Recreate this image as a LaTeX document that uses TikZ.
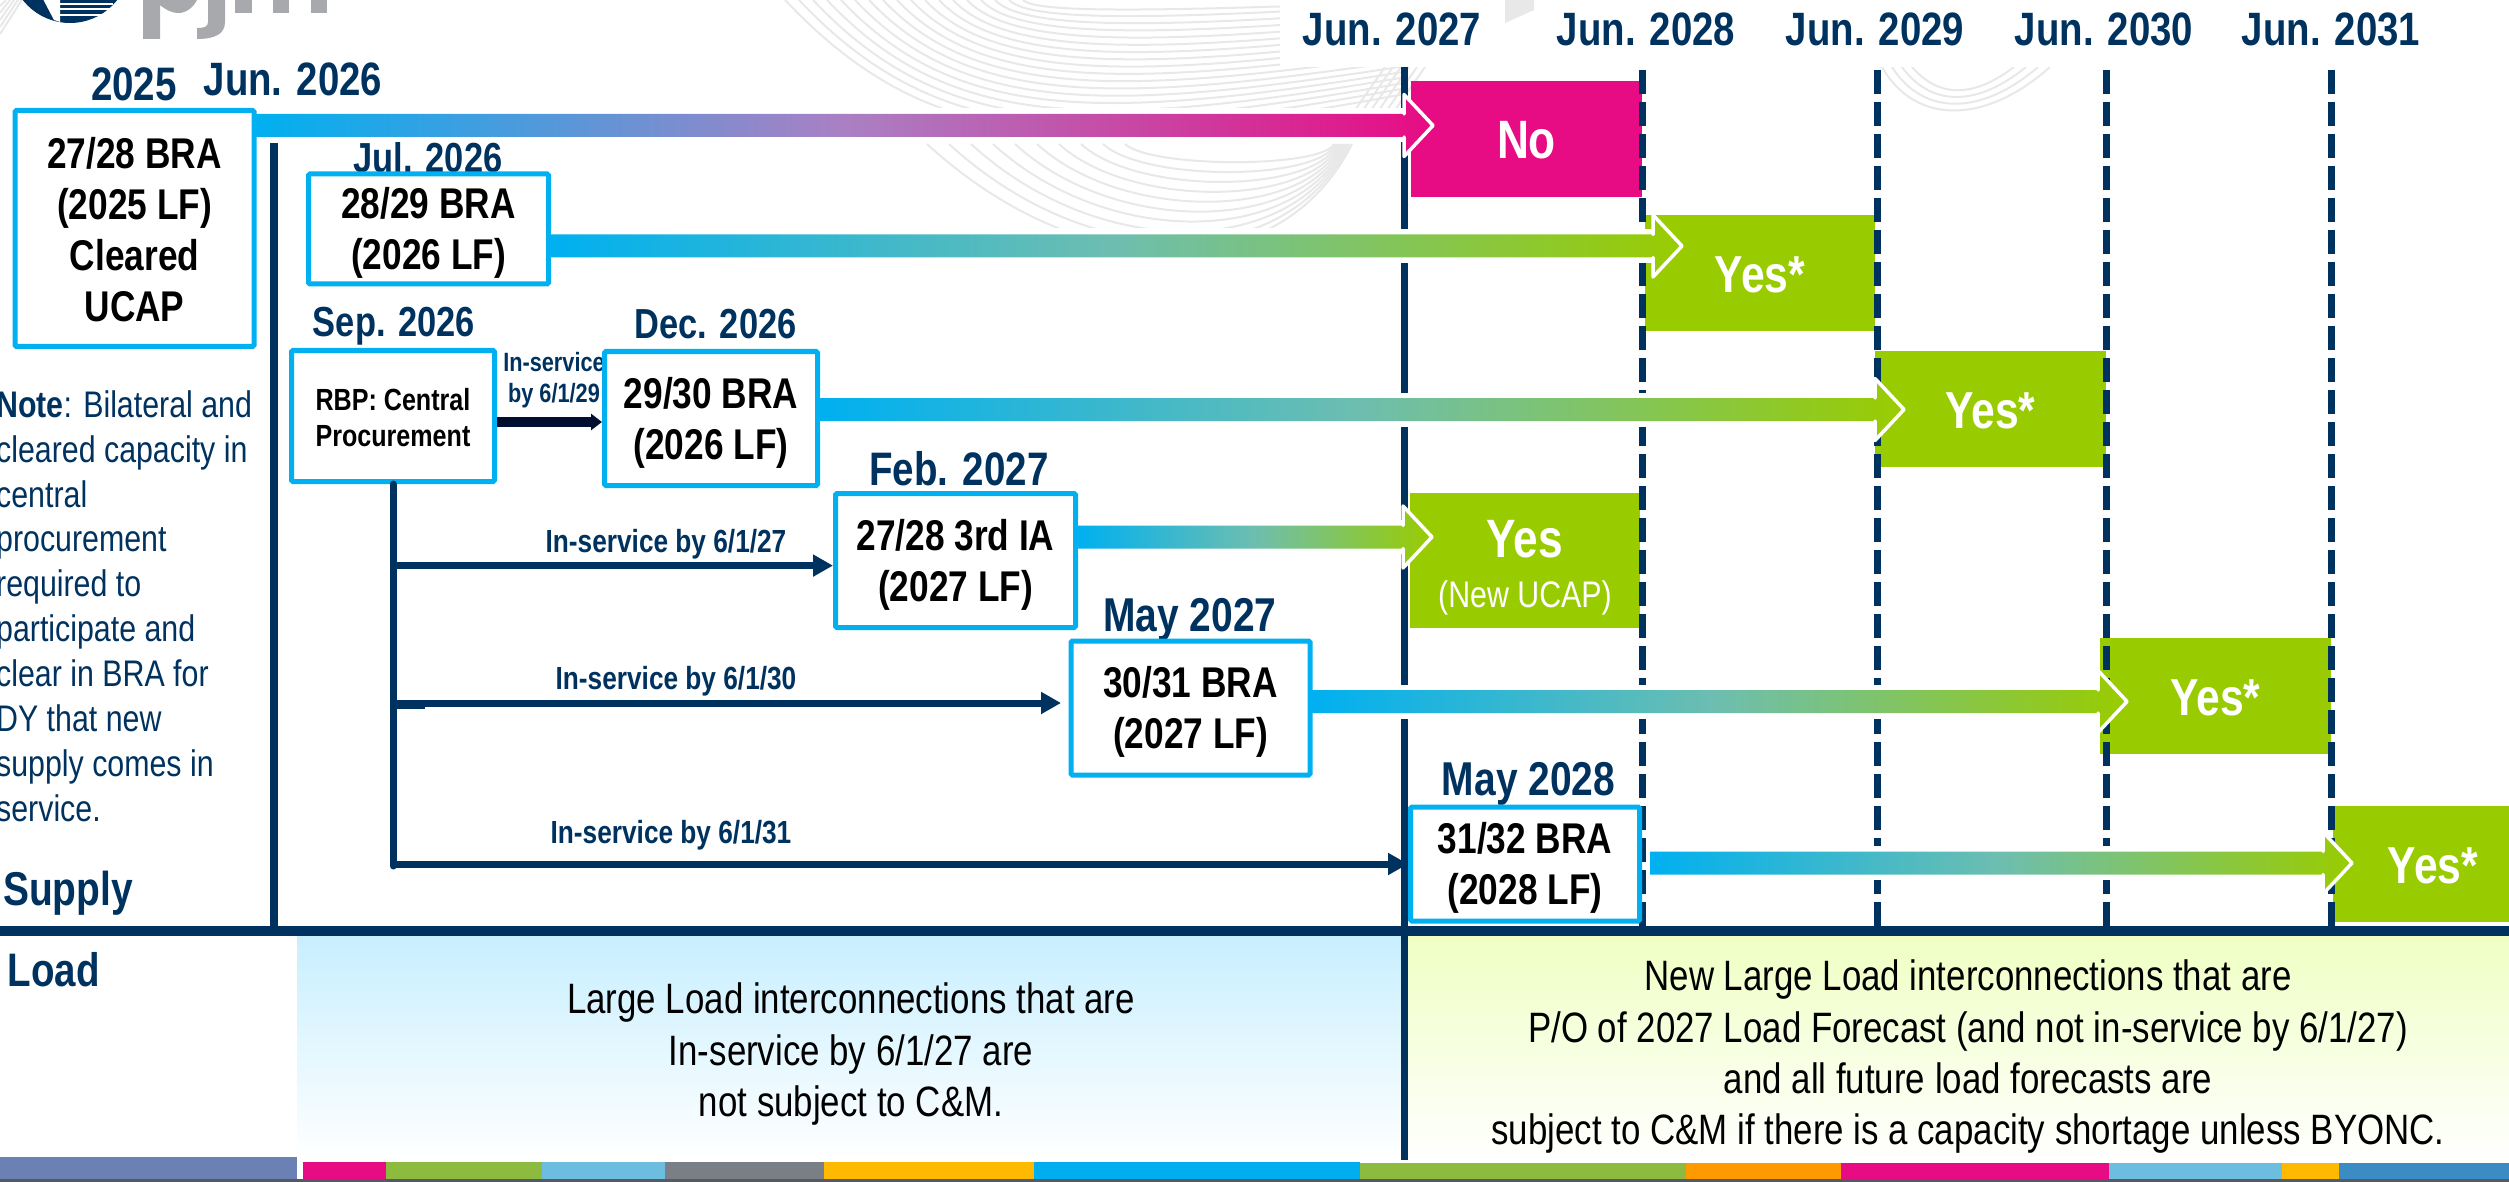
\documentclass[tikz,border=0pt]{standalone}
\usepackage{fontspec}
\setmainfont[FakeStretch=0.82]{Liberation Sans}
\usetikzlibrary{calc,arrows.meta}
\definecolor{navy}{HTML}{00325F}
\definecolor{cyanb}{HTML}{00B0F0}
\definecolor{pinkb}{HTML}{E70B84}
\definecolor{greenb}{HTML}{99CC00}
\definecolor{midp}{HTML}{AA80C3}
\definecolor{midg}{HTML}{6EBEAF}
\definecolor{swoosh}{HTML}{E8E8E8}
\definecolor{logogrey}{HTML}{A7A9AC}
\definecolor{stripa}{HTML}{6B81B3}
\definecolor{stripg}{HTML}{8DBB3F}
\definecolor{stripl}{HTML}{6DBDE0}
\definecolor{stripk}{HTML}{7A7F85}
\definecolor{stripy}{HTML}{FFB900}
\definecolor{stripc}{HTML}{00AEEF}
\definecolor{stripo}{HTML}{FF9900}
\definecolor{stripb}{HTML}{3B8BC4}
\definecolor{stripd}{HTML}{555A60}
\definecolor{darkarrow}{HTML}{000F30}
\definecolor{panela}{HTML}{C8EFFF}
\definecolor{panelb}{HTML}{EFFFC3}
\newcommand{\st}[2]{\rule[-#2pt]{0pt}{\dimexpr#1pt+#2pt\relax}}
\newcommand{\fs}[2]{\fontsize{#1}{#2}\selectfont}
% gradient arrow: start node, tip coordinate, x-offset from the start node, end colour, middle colour
\newcommand{\gradarrow}[5]{%
  \fill[white] ($(#1.east |- #2)+(#3,-17)$) rectangle ($(#2)+(-29,17)$);
  \shade[left color=cyanb,right color=#4,middle color=#5]
    ($(#1.east |- #2)+(#3,-11.5)$) -- ($(#2)+(-29,-11.5)$) -- ($(#2)+(-29,-31)$) -- (#2) --
    ($(#2)+(-29,31)$) -- ($(#2)+(-29,11.5)$) -- ($(#1.east |- #2)+(#3,11.5)$) -- cycle;
  \draw[white,line width=3.5pt,line join=round,line cap=round]
    ($(#2)+(-29,-11.5)$) -- ($(#2)+(-29,-31)$) -- (#2) -- ($(#2)+(-29,31)$) -- ($(#2)+(-29,11.5)$);
}
\tikzset{
  x=1pt,y=-1pt,
  bluebox/.style={draw=cyanb,line width=5pt,rounded corners=1.5pt,fill=white,inner sep=0pt,align=center,text=black,font=\bfseries\fs{43}{51}},
  date/.style={anchor=base,inner sep=0pt,text=navy,font=\bfseries\fs{46.8}{50}},
  datesm/.style={date,font=\bfseries\fs{42}{50}},
  svc/.style={anchor=base,inner sep=0pt,text=navy,font=\bfseries\fs{32}{36}},
  verdict/.style={inner sep=0pt,text=white,font=\bfseries\fs{52}{54},align=center},
  loadtext/.style={inner sep=0pt,text=black,align=center,font=\fs{42.5}{51.2}},
  nline/.style={draw=navy,line width=7pt},
  narrow/.style={nline,-{Triangle[length=20pt,width=21pt]}},
  dashline/.style={draw=navy,line width=7pt,dash pattern=on 24pt off 8pt},
  swl/.style={draw=swoosh,line width=2pt},
}
\begin{document}
\begin{tikzpicture}
\useasboundingbox (0,0) rectangle (2509,1182);
\clip (0,0) rectangle (2509,1182);
% ---- background swooshes
\begin{scope}
\clip (780,0) rectangle (1404,109);
\foreach \i in {0,...,17}{
  \pgfmathsetmacro{\xo}{785+14*\i}
  \pgfmathsetmacro{\dd}{max(10,150-8*\i)}
  \pgfmathsetmacro{\ye}{max(2,92-5.5*\i)}
  \draw[swl] (\xo,0) .. controls ({\xo+\dd},{\dd*1.06}) and ({\xo+\dd+150},{\dd*1.06-5}) .. (1415,\ye);
}
\end{scope}
\begin{scope}
\clip (880,144) rectangle (1404,228);
\foreach \i in {0,...,9}{
  \pgfmathsetmacro{\xo}{927+22*\i}
  \pgfmathsetmacro{\dd}{130-12*\i}
  \pgfmathsetmacro{\xe}{1352-2*\i}
  \draw[swl] (\xo,144) .. controls ({\xo+\dd*1.2},{144+\dd*1.1}) and ({\xe-\dd*.55},{144+\dd*1.1}) .. (\xe,144);
}
\end{scope}
\foreach \i in {0,...,5}{
  \draw[swl] ({1355+8*\i},110) -- ({1385+8*\i},67);
}
\foreach \i in {0,...,3}{
  \draw[swl] ({1882+10*\i},67) .. controls ({1915+8*\i},{125-9*\i}) and ({1985-4*\i},{125-9*\i}) .. ({2050-12*\i},67);
}
\foreach \i in {0,...,4}{
  \draw[swl] (0,{34-7*\i}) -- ({22-4*\i},0);
}
\fill[white] (1280,0) rectangle (2509,67);
\fill[swoosh] (1505,0) -- (1534,0) -- (1534,10) -- (1505,23) -- cycle;
% ---- logo (cropped by the page top)
\begin{scope}
\clip (0,0) rectangle (140,30);
\fill[navy] (70,-37) circle (60);
\fill[white] (43,-1) -- (60,-1) -- (60,22) -- (54,20) -- cycle;
\foreach \yy in {4.5,9.5,14.7}{ \fill[white] (57,\yy-1) rectangle (113,\yy+1); }
\end{scope}
\fill[logogrey] (143,0) -- (143,39) -- (160,39) -- (160,5) .. controls (166,10) and (172,13) .. (178,13) .. controls (186,13) and (193,8) .. (197,0) -- cycle;
\fill[logogrey] (208,0) -- (208,22) .. controls (208,27) and (204,28) .. (197,28) -- (197,39) .. controls (215,39) and (225,34) .. (225,22) -- (225,0) -- cycle;
\fill[logogrey] (235,0) rectangle (252,13);
\fill[logogrey] (273,0) rectangle (289,13);
\fill[logogrey] (311,0) rectangle (327,13);
% ---- load panels
\shade[top color=panela,bottom color=white] (297,936) rectangle (1404,1160);
\shade[top color=panelb,bottom color=white] (1404,936) rectangle (2509,1163);
% ---- bottom strip
\fill[white] (297,1157) rectangle (303,1179);
\fill[stripa] (0,1157) rectangle (297,1179);
\fill[pinkb] (303,1162) rectangle (386,1179);
\fill[stripg] (386,1162) rectangle (542,1179);
\fill[stripl] (542,1162) rectangle (665,1179);
\fill[stripk] (665,1162) rectangle (824,1179);
\fill[stripy] (824,1162) rectangle (1034,1179);
\fill[stripc] (1034,1162) rectangle (1360,1179);
\fill[stripg] (1360,1163) rectangle (1686,1179);
\fill[stripo] (1686,1163) rectangle (1841,1179);
\fill[pinkb] (1841,1163) rectangle (2109,1179);
\fill[stripl] (2109,1163) rectangle (2281.5,1179);
\fill[stripy] (2281.5,1163) rectangle (2339,1179);
\fill[stripb] (2339,1163) rectangle (2509,1179);
\fill[stripd] (0,1179) rectangle (2509,1182);
% ---- verdict boxes
\node[verdict,fill=pinkb,font=\bfseries\fs{54}{56},minimum width=231pt,minimum height=116pt] (no) at (1526.5,139) {\st{40}{0}No};
\node[verdict,fill=greenb,minimum width=230pt,minimum height=116pt] (y1) at (1760,273) {\st{40}{0}Yes*};
\node[verdict,fill=greenb,minimum width=231pt,minimum height=116pt] (y2) at (1990.5,409) {\st{40}{0}Yes*};
\node[verdict,fill=greenb,minimum width=230pt,minimum height=135pt] (y0) at (1525,560.5) {};
\node[verdict,fill=greenb,minimum width=231pt,minimum height=116pt] (y3) at (2215.5,696) {\st{40}{0}Yes*};
\node[verdict,fill=greenb,minimum width=200pt,minimum height=116pt] (y4) at (2433,864) {\st{40}{0}Yes*};
\node[anchor=base,inner sep=0pt,text=white,font=\bfseries\fs{54}{56}] (yestxt) at (1525,557.6) {Yes};
\node[anchor=base,inner sep=0pt,text=white,font=\fs{37}{40}] (ucap) at (1525,607) {(New UCAP)};
% ---- timeline lines
\coordinate (j27t) at (1404,67); \coordinate (j27b) at (1404,1160);
\draw[nline] (j27t) -- (j27b);
\foreach \n/\xx in {a/1642,b/1877.5,c/2106,d/2331}{
  \coordinate (dt\n) at (\xx,70); \coordinate (db\n) at (\xx,926);
  \draw[dashline] (dt\n) -- (db\n);
}
\coordinate (vlt) at (274.4,143.5); \coordinate (vlb) at (274.4,930);
\draw[navy,line width=8pt] (vlt) -- (vlb);
% ---- separator
\fill[navy] (0,925.5) rectangle (2509,936);
% ---- date labels
\node[date,font=\bfseries\fs{47}{50}] (d25) at (134,100.6) {2025};
\node[date] (d26) at (293,96) {Jun. 2026};
\node[datesm] (djul) at (428,172.5) {Jul. 2026};
\node[datesm] (dsep) at (394,337) {Sep. 2026};
\node[datesm] (ddec) at (715.5,338) {Dec. 2026};
\node[date,font=\bfseries\fs{47}{50}] (dfeb) at (959,485) {Feb. 2027};
\node[date,font=\bfseries\fs{47.5}{50}] (dm27) at (1190,631) {May 2027};
\node[date,font=\bfseries\fs{47.5}{50}] (dm28) at (1528.6,795.7) {May 2028};
\node[date] (j1) at (1392,46) {Jun. 2027};
\node[date] (j2) at (1646,46) {Jun. 2028};
\node[date] (j3) at (1875,46) {Jun. 2029};
\node[date] (j4) at (2104,46) {Jun. 2030};
\node[date] (j5) at (2331,46) {Jun. 2031};
\node[date,font=\bfseries\fs{47.5}{50},anchor=base west] (sup) at (3,905) {Supply};
\node[date,font=\bfseries\fs{47}{50},anchor=base west] (lod) at (7.5,986) {Load};
% ---- small labels
\node[inner sep=0pt,text=navy,align=center,font=\bfseries\fs{26.5}{31.6}] (s29) at (554,378.8) {\st{22}{6}In-service\\by 6/1/29\st{22}{6}};
\node[svc] (s27) at (666,552) {In-service by 6/1/27};
\node[svc] (s30) at (676,689) {In-service by 6/1/30};
\node[svc] (s31) at (671,843) {In-service by 6/1/31};
% ---- note
\node[anchor=north west,inner sep=0pt,text=navy,align=left,font=\fs{37}{44.9}] (note) at (-4,389)
 {\st{28}{0}\textbf{Note}: Bilateral and\\cleared capacity in\\central\\procurement\\required to\\participate and\\clear in BRA for\\DY that new\\supply comes in\\service.};
% ---- load text
\node[loadtext] (lt1) at (851,1053) {\st{33}{9}Large Load interconnections that are\\In-service by 6/1/27 are\\not subject to C\&M.\st{33}{9}};
\node[loadtext] (lt2) at (1968,1055.6) {\st{33}{9}New Large Load interconnections that are\\P/O of 2027 Load Forecast (and not in-service by 6/1/27)\\and all future load forecasts are\\subject to C\&M if there is a capacity shortage unless BYONC.\st{33}{9}};
% ---- blue boxes
\node[bluebox,minimum width=239pt,minimum height=236pt] (b1) at (134.5,228.5) {\st{39.5}{6.5}27/28 BRA\\(2025 LF)\\Cleared\\UCAP\st{39.5}{6.5}};
\node[bluebox,minimum width=240pt,minimum height=110pt] (b2) at (428.5,229) {\st{39.5}{6.5}28/29 BRA\\(2026 LF)\st{39.5}{6.5}};
\node[bluebox,font=\bfseries\fs{30.6}{36.5},minimum width=203pt,minimum height=131pt] (rbp) at (393,416) {\st{28.5}{3.5}RBP: Central\\Procurement\st{28.5}{3.5}};
\node[bluebox,minimum width=213pt,minimum height=134pt] (b3) at (711,418.5) {\st{39.5}{6.5}29/30 BRA\\(2026 LF)\st{39.5}{6.5}};
\node[bluebox,minimum width=240pt,minimum height=134pt] (b4) at (955.5,560.5) {\st{39}{7}27/28 3rd IA\\(2027 LF)\st{39}{7}};
\node[bluebox,minimum width=239pt,minimum height=134pt] (b5) at (1190.5,708) {\st{39.5}{6.5}30/31 BRA\\(2027 LF)\st{39.5}{6.5}};
\node[bluebox,minimum width=229pt,minimum height=114pt] (b6) at (1525,864) {\st{39.5}{6.5}31/32 BRA\\(2028 LF)\st{39.5}{6.5}};
% ---- thick gradient arrows
\coordinate (t1) at (1433,125.5);
\coordinate (t2) at (1682,246);
\coordinate (t3) at (1904,409.5);
\coordinate (t4) at (1432,537);
\coordinate (t5) at (2127,701.5);
\coordinate (t6) at (2352,863);
\gradarrow{b1}{t1}{0}{pinkb}{midp}
\gradarrow{b2}{t2}{0}{greenb}{midg}
\gradarrow{b3}{t3}{0}{greenb}{midg}
\gradarrow{b4}{t4}{0}{greenb}{midg}
\gradarrow{b5}{t5}{0}{greenb}{midg}
\gradarrow{b6}{t6}{8}{greenb}{midg}
% ---- procurement connectors
\coordinate (stemb) at (393,866);
\coordinate (br1) at (393,565.6);
\coordinate (br2) at (393,703);
\coordinate (br3) at (393,864);
\coordinate (e2) at (1061,703);
\coordinate (br0) at (393,422);
\draw[nline,line cap=round] (rbp.south) -- (stemb);
\draw[narrow] (br1) -- (b4.west |- br1);
\draw[narrow] (br2) -- (e2);
\draw[narrow] (br3) -- (b6.west |- br3);
\fill[navy] (390,700) rectangle (425,708.5);
\draw[darkarrow,line width=10.5pt,-{Triangle[length=11pt,width=16pt]}] (rbp.east |- br0) -- (b3.west |- br0);
\end{tikzpicture}
\end{document}
